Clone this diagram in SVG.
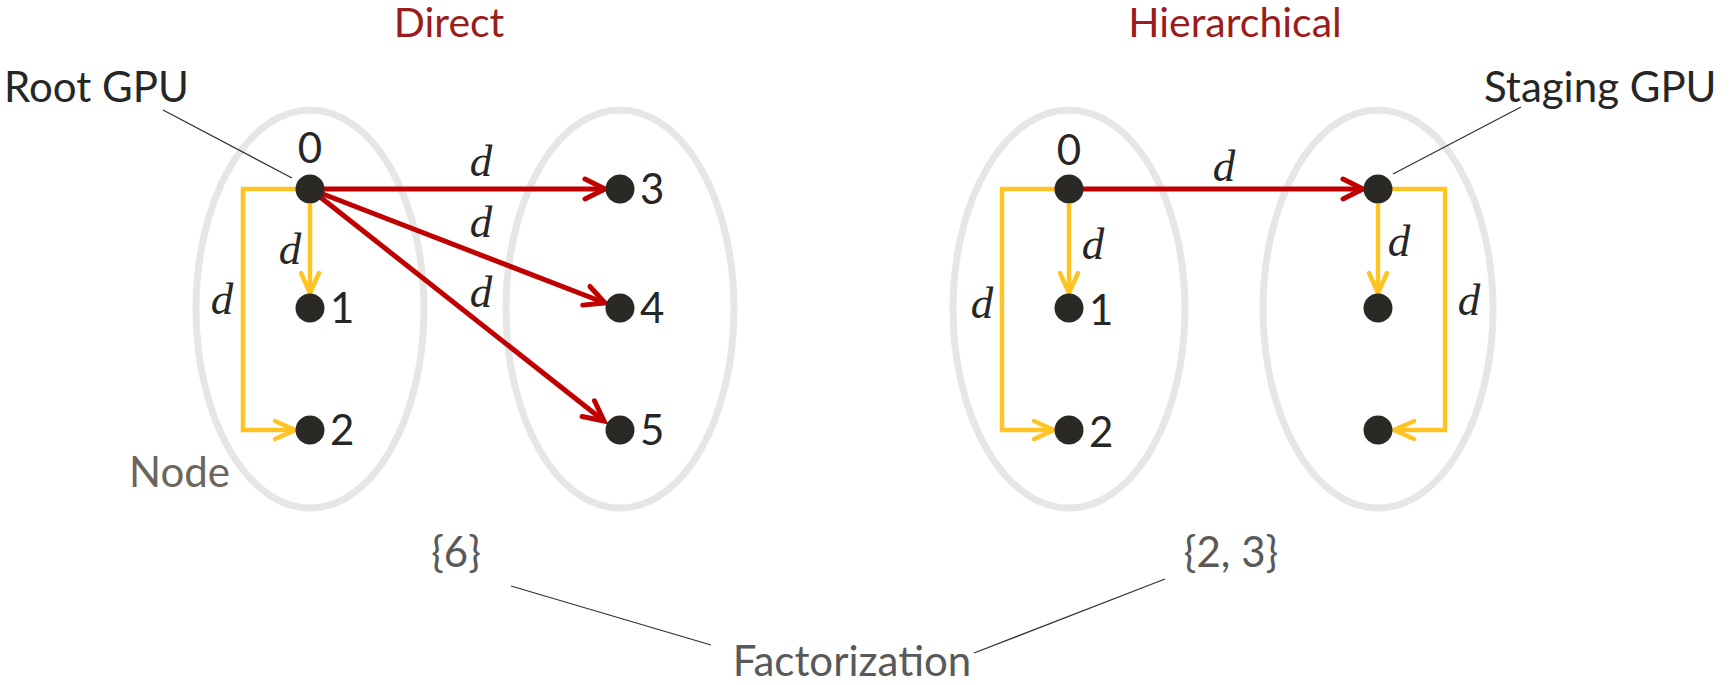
<svg xmlns="http://www.w3.org/2000/svg" width="1729" height="685" viewBox="0 0 1729 685">
<style>
.grp{fill:none;stroke:#e6e6e6;stroke-width:7}
.dot{fill:#2b2926}
.lbl{font-family:Lato,"Liberation Sans",sans-serif;font-size:42px;fill:#262626}
.title{font-family:Lato,"Liberation Sans",sans-serif;font-size:41px;fill:#9b1c1c}
.d{font-family:"Liberation Serif",serif;font-style:italic;font-size:45px;fill:#262626}
.grey{font-family:Lato,"Liberation Sans",sans-serif;font-size:42px;fill:#595959}
.red{fill:none;stroke:#c00000;stroke-width:5}
.yel{fill:none;stroke:#ffc423;stroke-width:4.5}
.lead{fill:none;stroke:#333;stroke-width:1.3}
</style>
<defs>
<marker id="ar" markerUnits="userSpaceOnUse" markerWidth="32" markerHeight="32" viewBox="-26 -16 32 32" refX="0" refY="0" orient="auto">
<path d="M-20,-10 L0,0 L-20,10" fill="none" stroke="#c00000" stroke-width="5" stroke-linecap="round"/>
</marker>
<marker id="ay" markerUnits="userSpaceOnUse" markerWidth="32" markerHeight="32" viewBox="-26 -16 32 32" refX="0" refY="0" orient="auto">
<path d="M-20,-9 L0,0 L-20,9" fill="none" stroke="#ffc423" stroke-width="4.5" stroke-linecap="round"/>
</marker>
</defs>

<g id="groups">
<ellipse id="node-direct-a" class="grp" cx="310" cy="309" rx="114" ry="199"/>
<ellipse id="node-direct-b" class="grp" cx="620" cy="309" rx="114" ry="199"/>
<ellipse id="node-hier-a" class="grp" cx="1069" cy="309" rx="116" ry="199"/>
<ellipse id="node-hier-b" class="grp" cx="1378" cy="309" rx="115" ry="199"/>
</g>

<g id="connectors">
<path class="red" d="M310,189 L605,189" marker-end="url(#ar)"/>
<path class="red" d="M310,189 L605,303" marker-end="url(#ar)"/>
<path class="red" d="M310,189 L604,421" marker-end="url(#ar)"/>
<path class="yel" d="M310,204 V293" marker-end="url(#ay)"/>
<path class="yel" d="M310,189 H243 V430 H295" marker-end="url(#ay)"/>
<path class="red" d="M1069,189 L1363,189" marker-end="url(#ar)"/>
<path class="yel" d="M1069,204 V293" marker-end="url(#ay)"/>
<path class="yel" d="M1069,189 H1002 V430 H1054" marker-end="url(#ay)"/>
<path class="yel" d="M1378,204 V293" marker-end="url(#ay)"/>
<path class="yel" d="M1378,189 H1445 V430 H1394" marker-end="url(#ay)"/>
<path class="lead" d="M163,110 L292,178"/>
<path class="lead" d="M1521,107 L1393,174"/>
<path class="lead" d="M511,586 L711,645"/>
<path class="lead" d="M1165,579 L974,653"/>
</g>

<g id="gpu-d0"><circle class="dot" cx="310" cy="189" r="14.5"/><text class="lbl" x="310" y="163" text-anchor="middle">0</text></g>
<g id="gpu-d1"><circle class="dot" cx="310" cy="308" r="14.5"/><text class="lbl" x="330" y="323">1</text></g>
<g id="gpu-d2"><circle class="dot" cx="310" cy="430" r="14.5"/><text class="lbl" x="330" y="445">2</text></g>
<g id="gpu-d3"><circle class="dot" cx="620" cy="189" r="14.5"/><text class="lbl" x="640" y="204">3</text></g>
<g id="gpu-d4"><circle class="dot" cx="620" cy="308" r="14.5"/><text class="lbl" x="640" y="323">4</text></g>
<g id="gpu-d5"><circle class="dot" cx="620" cy="430" r="14.5"/><text class="lbl" x="640" y="445">5</text></g>

<g id="gpu-h0"><circle class="dot" cx="1069" cy="189" r="14.5"/><text class="lbl" x="1069" y="165" text-anchor="middle">0</text></g>
<g id="gpu-h1"><circle class="dot" cx="1069" cy="308" r="14.5"/><text class="lbl" x="1089" y="325">1</text></g>
<g id="gpu-h2"><circle class="dot" cx="1069" cy="430" r="14.5"/><text class="lbl" x="1089" y="447">2</text></g>
<g id="gpu-h3"><circle class="dot" cx="1378" cy="189" r="14.5"/></g>
<g id="gpu-h4"><circle class="dot" cx="1378" cy="308" r="14.5"/></g>
<g id="gpu-h5"><circle class="dot" cx="1378" cy="430" r="14.5"/></g>

<g id="labels">
<text class="title" x="449" y="37" text-anchor="middle">Direct</text>
<text class="title" x="1235" y="37" text-anchor="middle">Hierarchical</text>
<text class="lbl" x="4" y="102">Root GPU</text>
<text class="lbl" x="1484" y="102">Staging GPU</text>
<text class="grey" x="129" y="487" style="fill:#6b655c">Node</text>
<text class="d" x="481" y="176" text-anchor="middle">d</text>
<text class="d" x="481" y="237" text-anchor="middle">d</text>
<text class="d" x="481" y="307" text-anchor="middle">d</text>
<text class="d" x="290" y="264" text-anchor="middle">d</text>
<text class="d" x="222" y="314" text-anchor="middle">d</text>
<text class="d" x="1224" y="181" text-anchor="middle">d</text>
<text class="d" x="1093" y="259" text-anchor="middle">d</text>
<text class="d" x="982" y="318" text-anchor="middle">d</text>
<text class="d" x="1399" y="256" text-anchor="middle">d</text>
<text class="d" x="1469" y="315" text-anchor="middle">d</text>
<text class="grey" x="456" y="567" text-anchor="middle">{6}</text>
<text class="grey" x="1231" y="567" text-anchor="middle">{2, 3}</text>
<text class="grey" x="852" y="676" text-anchor="middle">Factorization</text>
</g>
</svg>
